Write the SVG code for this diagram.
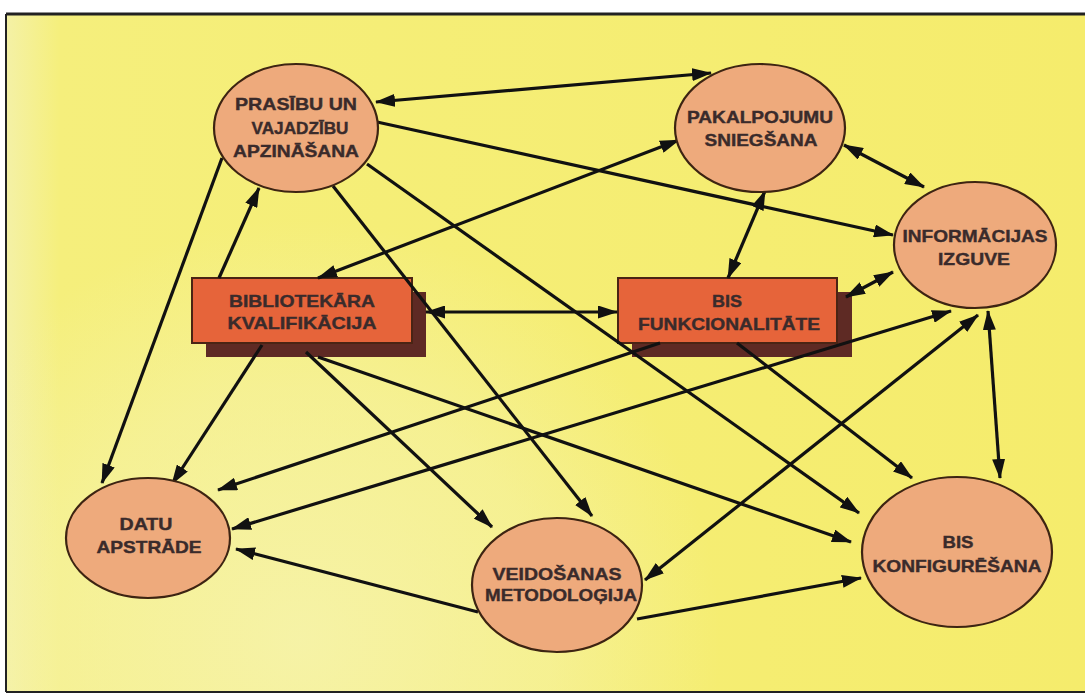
<svg xmlns="http://www.w3.org/2000/svg" width="1085" height="694" viewBox="0 0 1085 694">
<defs>
<linearGradient id="bg" x1="0" y1="0" x2="1" y2="0">
<stop offset="0" stop-color="#f4f1a6"/>
<stop offset="0.05" stop-color="#f5ef7c"/>
<stop offset="1" stop-color="#f5ec6c"/>
</linearGradient>
<radialGradient id="lite" gradientUnits="userSpaceOnUse" cx="300" cy="640" r="420">
<stop offset="0" stop-color="#f6f3ae" stop-opacity="0.85"/>
<stop offset="0.6" stop-color="#f6f3ae" stop-opacity="0.5"/>
<stop offset="1" stop-color="#f6f3ae" stop-opacity="0"/>
</radialGradient>
<marker id="ah" viewBox="0 0 20 13" markerWidth="20" markerHeight="13" refX="19" refY="6.5" orient="auto-start-reverse" markerUnits="userSpaceOnUse">
<path d="M0,0 L20,6.5 L0,13 z" fill="#111"/>
</marker>
<style>
.ell{fill:#eeaa7c;stroke:#3d2412;stroke-width:2.2}
.box{fill:#e6643a;stroke:#4a2414;stroke-width:2}
.sh{fill:#5e2a24}
.t{font-family:"Liberation Sans",Arial,sans-serif;font-weight:bold;font-size:17px;fill:#3a2b2b;stroke:#3a2b2b;stroke-width:0.4;text-anchor:middle}
.c{stroke:#111;stroke-width:3.2;fill:none}
.e{marker-end:url(#ah)}
.b{marker-start:url(#ah);marker-end:url(#ah)}
</style>
</defs>
<rect x="0" y="0" width="1085" height="694" fill="#ffffff"/>
<rect x="6" y="14" width="1079" height="678" fill="url(#bg)"/>
<rect x="6" y="200" width="800" height="492" fill="url(#lite)"/>
<line x1="6" y1="14" x2="1085" y2="14" stroke="#222" stroke-width="3"/>
<line x1="6" y1="14" x2="6" y2="692" stroke="#222" stroke-width="2"/>
<line x1="6" y1="692" x2="1085" y2="692" stroke="#222" stroke-width="2"/>

<g id="n-bib">
<rect class="sh" x="206" y="292" width="220" height="65"/>
<rect class="box" x="192" y="278" width="220" height="65"/>
<text class="t" x="302" y="307" textLength="146" lengthAdjust="spacingAndGlyphs">BIBLIOTEKĀRA</text>
<text class="t" x="302" y="329" textLength="149" lengthAdjust="spacingAndGlyphs">KVALIFIKĀCIJA</text>
</g>
<g id="n-bisf">
<rect class="sh" x="632" y="292" width="220" height="65"/>
<rect class="box" x="618" y="278" width="219" height="65"/>
<text class="t" x="727" y="307" textLength="30" lengthAdjust="spacingAndGlyphs">BIS</text>
<text class="t" x="729" y="330" textLength="182" lengthAdjust="spacingAndGlyphs">FUNKCIONALITĀTE</text>
</g>

<g id="connectors">
<line class="c b" x1="376" y1="102" x2="711" y2="73"/>
<line class="c e" x1="377" y1="122" x2="893" y2="235"/>
<line class="c e" x1="367" y1="164" x2="859" y2="513"/>
<line class="c e" x1="333" y1="186" x2="592" y2="516"/>
<line class="c e" x1="222" y1="158" x2="102" y2="483"/>
<line class="c e" x1="219" y1="278" x2="259" y2="188"/>
<line class="c b" x1="318" y1="278" x2="679" y2="140"/>
<line class="c b" x1="426" y1="312" x2="617" y2="312"/>
<line class="c e" x1="262" y1="345" x2="172" y2="484"/>
<line class="c e" x1="306" y1="352" x2="492" y2="527"/>
<line class="c e" x1="318" y1="357" x2="851" y2="542"/>
<line class="c b" x1="765" y1="191" x2="728" y2="278"/>
<line class="c b" x1="844" y1="145" x2="924" y2="187"/>
<line class="c b" x1="846" y1="297" x2="893" y2="272"/>
<line class="c e" x1="660" y1="343" x2="218" y2="490"/>
<line class="c e" x1="737" y1="343" x2="912" y2="478"/>
<line class="c b" x1="232" y1="529" x2="951" y2="311"/>
<line class="c b" x1="645" y1="580" x2="978" y2="315"/>
<line class="c b" x1="988" y1="311" x2="1000" y2="478"/>
<line class="c e" x1="478" y1="612" x2="236" y2="549"/>
<line class="c e" x1="637" y1="619" x2="861" y2="578"/>
</g>

<g id="n-pras">
<ellipse class="ell" cx="296" cy="128" rx="82" ry="64"/>
<text class="t" x="296" y="110" textLength="122" lengthAdjust="spacingAndGlyphs">PRASĪBU UN</text>
<text class="t" x="300" y="134" textLength="97" lengthAdjust="spacingAndGlyphs">VAJADZĪBU</text>
<text class="t" x="296" y="157" textLength="126" lengthAdjust="spacingAndGlyphs">APZINĀŠANA</text>
</g>
<g id="n-pak">
<ellipse class="ell" cx="760" cy="128" rx="85" ry="64"/>
<text class="t" x="760" y="123" textLength="146" lengthAdjust="spacingAndGlyphs">PAKALPOJUMU</text>
<text class="t" x="761" y="146" textLength="113" lengthAdjust="spacingAndGlyphs">SNIEGŠANA</text>
</g>
<g id="n-info">
<ellipse class="ell" cx="975" cy="245" rx="81" ry="63"/>
<text class="t" x="975" y="242" textLength="145" lengthAdjust="spacingAndGlyphs">INFORMĀCIJAS</text>
<text class="t" x="974" y="265" textLength="72" lengthAdjust="spacingAndGlyphs">IZGUVE</text>
</g>
<g id="n-datu">
<ellipse class="ell" cx="148" cy="538" rx="82" ry="60"/>
<text class="t" x="146" y="530" textLength="53" lengthAdjust="spacingAndGlyphs">DATU</text>
<text class="t" x="149" y="553" textLength="105" lengthAdjust="spacingAndGlyphs">APSTRĀDE</text>
</g>
<g id="n-veid">
<ellipse class="ell" cx="557" cy="585" rx="85" ry="67"/>
<text class="t" x="557" y="580" textLength="129" lengthAdjust="spacingAndGlyphs">VEIDOŠANAS</text>
<text class="t" x="561" y="601" textLength="152" lengthAdjust="spacingAndGlyphs">METODOLOĢIJA</text>
</g>
<g id="n-konf">
<ellipse class="ell" cx="957" cy="552" rx="95" ry="75"/>
<text class="t" x="958" y="548" textLength="31" lengthAdjust="spacingAndGlyphs">BIS</text>
<text class="t" x="957" y="572" textLength="169" lengthAdjust="spacingAndGlyphs">KONFIGURĒŠANA</text>
</g>
</svg>
